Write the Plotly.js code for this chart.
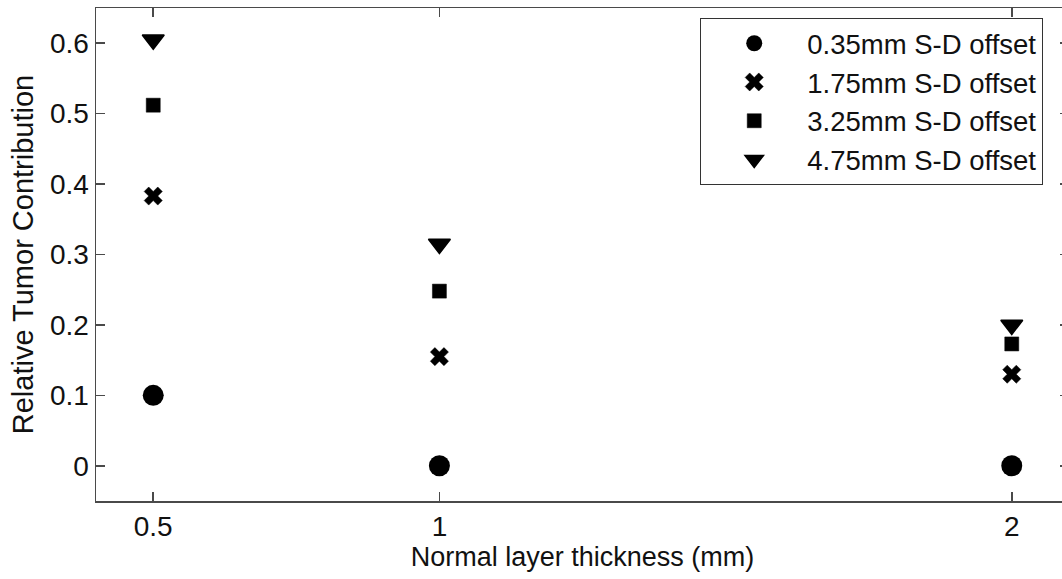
<!DOCTYPE html>
<html>
<head>
<meta charset="utf-8">
<script src="https://cdn.plot.ly/plotly-3.0.1.min.js"></script>
<style>
  html, body { margin: 0; padding: 0; overflow: hidden; background: #fff; }
  #chart { width: 1070px; height: 579px; }
</style>
</head>
<body>
<div id="chart"></div>
<script>
// Normal layer thickness (mm)
const thickness = [0.5, 1, 2];

// Relative tumor contribution for each source-detector offset
const offset035 = [0.1, 0, 0];
const offset175 = [0.383, 0.155, 0.13];
const offset325 = [0.512, 0.248, 0.173];
const offset475 = [0.605, 0.315, 0.2];

const seriesNames = [
  '0.35mm S-D offset',
  '1.75mm S-D offset',
  '3.25mm S-D offset',
  '4.75mm S-D offset'
];

const xTicks = [0.5, 1, 2];
const yTicks = [0, 0.1, 0.2, 0.3, 0.4, 0.5, 0.6];

const font = '"Liberation Sans", Arial, Helvetica, sans-serif';
const axisColor = '#4a4a4a';

function series(y, name, symbol, size, lineWidth) {
  return {
    type: 'scatter',
    mode: 'markers',
    x: thickness,
    y: y,
    name: name,
    marker: {
      symbol: symbol,
      size: size,
      color: '#000',
      line: { color: '#000', width: lineWidth }
    }
  };
}

const traces = [
  series(offset035, seriesNames[0], 'circle', 21, 0),
  series(offset175, seriesNames[1], 'x', 16, 0.5),
  series(offset325, seriesNames[2], 'square', 14, 0.5),
  series(offset475, seriesNames[3], 'triangle-down', 19, 1.5)
];

const axisBase = {
  showgrid: false,
  zeroline: false,
  showline: true,
  linecolor: axisColor,
  linewidth: 1.5,
  mirror: 'ticks',
  ticks: 'inside',
  ticklen: 9,
  tickwidth: 1.5,
  tickcolor: axisColor,
  tickfont: { family: font, size: 28, color: '#111' }
};

const layout = {
  width: 1070,
  height: 579,
  margin: { l: 96, r: 1, t: 8, b: 78 },
  paper_bgcolor: '#fff',
  plot_bgcolor: '#fff',
  font: { family: font, color: '#111' },
  showlegend: true,
  legend: {
    x: 0.621,
    y: 0.98,
    xanchor: 'left',
    yanchor: 'top',
    bgcolor: '#fff',
    bordercolor: '#333',
    borderwidth: 1,
    itemwidth: 96,
    font: { family: font, size: 27.5, color: '#111' }
  },
  xaxis: Object.assign({}, axisBase, {
    range: [0.4, 2.1],
    tickmode: 'array',
    tickvals: xTicks,
    ticktext: xTicks.map(String),
    title: { text: 'Normal layer thickness (mm)', font: { family: font, size: 27, color: '#111' }, standoff: 6 }
  }),
  yaxis: Object.assign({}, axisBase, {
    range: [-0.05, 0.65],
    tickmode: 'array',
    tickvals: yTicks,
    ticktext: yTicks.map(String),
    title: { text: 'Relative Tumor Contribution', font: { family: font, size: 29, color: '#111' }, standoff: 8 }
  })
};

Plotly.newPlot('chart', traces, layout, { staticPlot: true, displayModeBar: false });
</script>
</body>
</html>
